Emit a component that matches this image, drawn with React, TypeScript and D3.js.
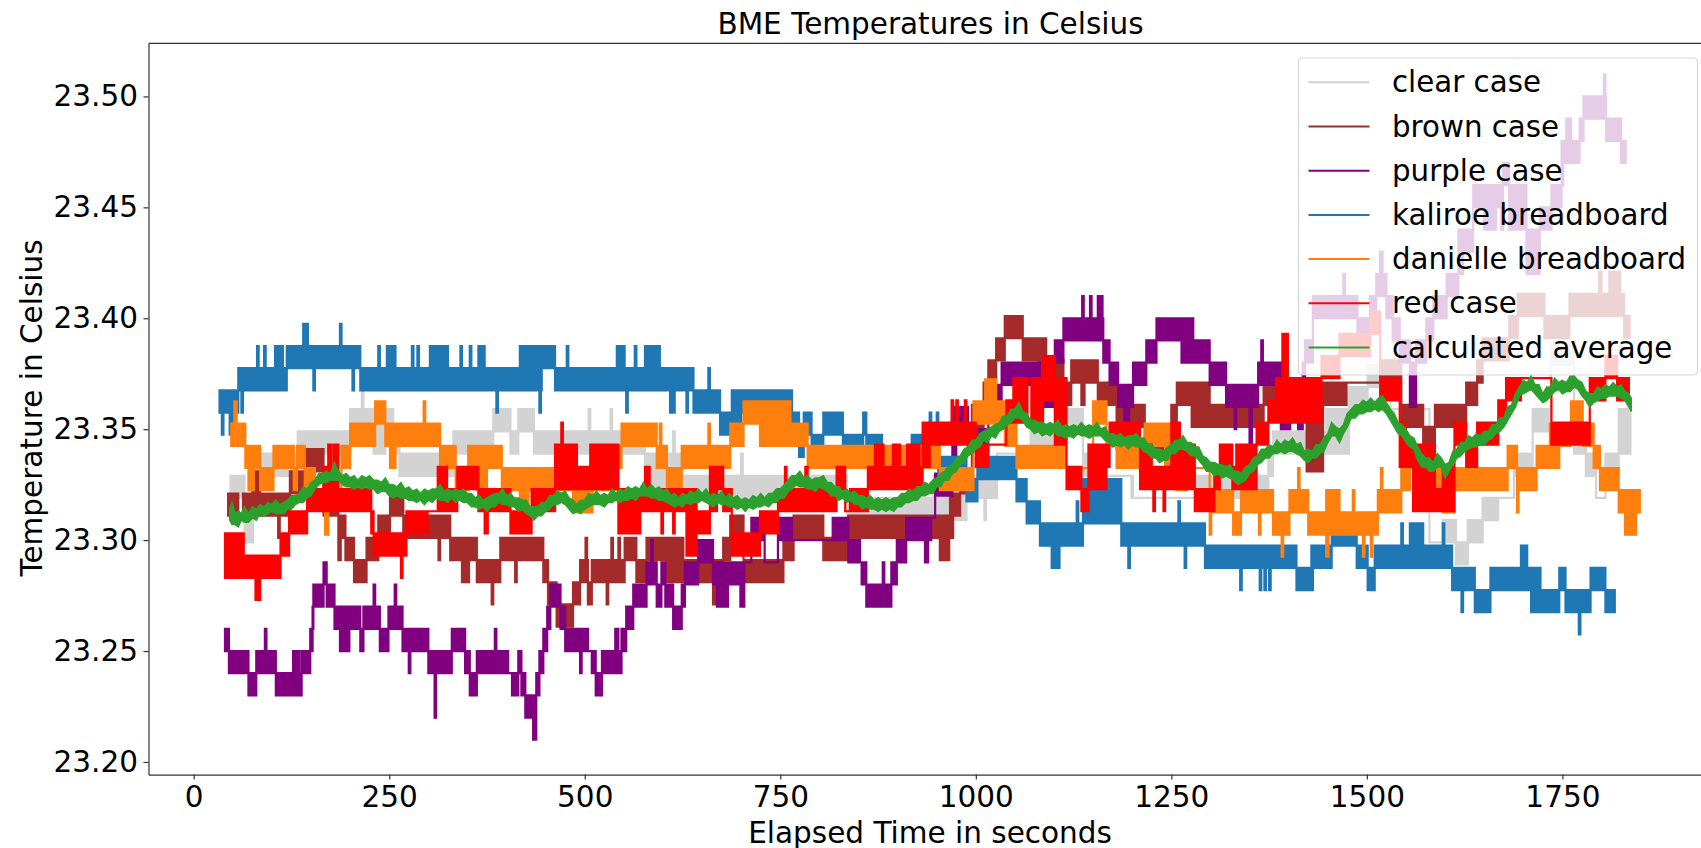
import React, { useEffect, useRef } from "react";
import * as d3 from "d3";

// rows are [seconds, low, high], low/high in hundredths above 23 C.
// the sensor flips between two readings so fast that it shows as a block: a row holds from its
// time until the next row.
type Row = [number, number, number];

const clearCase: Row[] = [
  [47,31,32],[65,29,31],[76,32,33],[122,32,33],[133,33,34],[160,33,34],[200,34,35],[215,34,36],[217,34,35],[230,33,35],[245,34,35],[255,33,34],
  [263,32,33],[302,32,33],[332,33,34],[383,34,35],[405,33,34],[415,34,35],[435,33,34],[505,33,35],[507,33,34],[533,33,35],[535,33,34],[577,31,33],
  [613,32,34],[615,32,33],[624,31,32],[694,31,32],[700,31,33],[702,31,32],[835,30,31],[912,30,31],[946,30,32],[988,31,32],[1011,30,32],[1013,31,32],
  [1027,33,33],[1070,33,34],[1116,34,35],[1137,32,33],[1158,32,32],[1199,31,32],[1201,31,31],[1244,31,31],[1281,31,32],[1333,31,32],[1374,32,33],
  [1380,33,34],[1448,33,35],[1477,35,36],[1501,36,37],[1530,35,35],[1580,29,29],[1597,29,30],[1614,28,29],[1629,29,30],[1648,30,31],[1668,31,31],
  [1688,32,33],[1712,34,35],[1735,37,38],[1765,33,34],[1780,32,33],[1793,31,31],[1805,32,33],[1822,33,35],[1837,33,35],
];

const brownCase: Row[] = [
  [44,31,32],[57,31,31],[63,31,32],[75,31,33],[85,31,32],[108,30,32],[110,31,32],[123,32,33],[142,33,34],[166,31,33],[185,29,31],[188,30,31],
  [194,29,30],[205,28,29],[221,29,30],[236,30,31],[251,31,32],[268,30,31],[285,30,31],[313,29,31],[315,30,31],[328,29,30],[343,28,30],[352,29,30],
  [362,28,29],[381,27,29],[383,28,29],[392,29,30],[411,28,30],[413,29,30],[447,28,29],[453,27,28],[464,26,27],[485,27,28],[494,28,29],[501,28,30],
  [503,28,29],[504,27,28],[509,28,29],[528,27,29],[530,28,29],[534,28,30],[536,28,29],[543,28,30],[545,28,29],[551,29,30],[566,28,29],[579,29,30],
  [605,28,30],[626,28,29],[664,27,29],[677,29,30],[686,30,31],[703,28,29],[741,28,29],[754,29,30],[767,30,31],[792,30,31],[805,29,30],[837,30,31],
  [875,30,31],[943,30,31],[954,29,31],[966,30,31],[967,30,32],[971,31,32],[980,32,33],[995,34,36],[1010,36,37],[1016,37,38],[1026,38,39],[1037,39,40],
  [1060,38,39],[1080,37,39],[1090,36,38],[1112,36,37],[1122,37,38],[1135,36,38],[1139,37,38],[1156,36,37],[1180,34,36],[1203,35,36],[1216,34,35],
  [1250,35,36],[1257,36,37],[1276,35,37],[1299,35,36],[1346,35,36],[1368,36,37],[1423,33,36],[1444,36,37],[1474,37,37],[1518,37,38],[1544,35,36],
  [1572,34,35],[1587,35,36],[1627,36,37],[1641,37,38],[1648,38,39],[1682,39,40],[1693,40,41],[1727,39,40],[1759,40,41],[1797,40,42],[1800,40,41],
  [1810,40,42],[1824,40,41],[1829,39,40],[1836,39,40],
];

const purpleCase: Row[] = [
  [40,25,26],[45,24,25],[70,23,24],[80,24,25],[91,24,26],[93,24,25],[105,23,24],[127,23,25],[135,23,24],[138,24,25],[149,25,26],[152,26,27],[153,27,28],
  [166,28,29],[170,27,28],[180,26,27],[187,25,27],[199,26,27],[213,25,26],[217,26,27],[230,26,28],[232,26,27],[238,25,26],[249,26,27],[257,26,28],
  [259,26,27],[267,25,26],[275,24,25],[277,25,26],[300,24,25],[308,22,25],[310,24,25],[330,25,26],[347,24,25],[353,23,24],[362,24,25],[385,24,26],
  [387,24,25],[402,24,24],[407,23,24],[415,24,25],[419,23,24],[424,22,23],[434,21,23],[438,23,24],[442,24,25],[447,25,26],[452,26,27],[456,27,28],
  [469,26,27],[475,25,26],[494,24,25],[496,25,26],[504,25,25],[509,24,25],[514,23,24],[522,24,25],[539,24,26],[543,24,25],[547,25,26],[553,26,27],
  [562,27,28],[579,28,29],[585,28,30],[587,28,29],[592,27,28],[598,28,29],[603,27,28],[613,26,27],[624,27,28],[628,28,29],[645,29,30],[664,28,29],
  [669,27,29],[683,28,29],[699,27,29],[704,29,29],[713,30,31],[730,29,29],[747,30,31],[765,30,30],[817,30,31],[837,29,30],[852,29,29],[854,28,29],
  [860,27,28],[881,27,29],[883,27,28],[892,28,29],[899,29,30],[911,30,31],[935,29,31],[939,30,31],[943,31,31],[948,32,33],[970,33,36],[975,35,36],
  [990,34,35],[1003,34,35],[1016,36,37],[1033,37,38],[1082,36,37],[1101,38,39],[1112,39,40],[1136,39,41],[1138,39,40],[1146,39,41],[1148,39,40],
  [1156,39,41],[1162,39,40],[1163,38,39],[1171,37,38],[1182,36,37],[1190,35,37],[1196,36,37],[1201,37,38],[1218,38,39],[1231,39,40],[1263,38,40],
  [1278,38,39],[1299,37,38],[1320,36,37],[1331,35,37],[1333,36,37],[1350,34,37],[1353,36,37],[1361,37,38],[1365,37,39],[1367,37,38],[1384,36,38],
  [1390,35,36],[1402,36,36],[1412,35,36],[1418,37,38],[1421,38,39],[1431,40,41],[1470,40,42],[1472,40,41],[1488,39,40],[1504,40,41],[1512,41,42],
  [1517,41,43],[1520,41,42],[1525,40,41],[1533,39,40],[1542,38,39],[1555,36,38],[1563,38,39],[1576,39,40],[1585,40,41],[1602,41,42],[1617,42,44],
  [1623,43,44],[1636,45,46],[1650,44,46],[1665,45,46],[1672,44,46],[1674,46,47],[1682,44,46],[1704,42,44],[1721,44,45],[1736,45,46],[1749,46,48],
  [1751,47,48],[1755,47,49],[1761,47,48],[1772,48,49],[1777,49,50],[1803,49,51],[1805,49,50],[1806,48,49],[1825,47,48],[1831,47,48],
];

const kaliroeBreadboard: Row[] = [
  [33,35,36],[36,34,36],[38,35,36],[46,34,36],[50,35,36],[57,36,37],[61,35,37],[63,36,37],[81,36,38],[83,36,37],[90,36,38],[92,36,37],[104,36,38],
  [114,36,37],[119,37,38],[140,37,39],[146,37,38],[153,36,38],[155,37,38],[187,37,39],[189,37,38],[203,36,38],[205,37,38],[213,36,37],[236,36,38],
  [238,36,37],[247,36,38],[258,36,37],[279,36,38],[281,36,37],[286,36,38],[288,36,37],[302,36,38],[325,36,37],[341,36,38],[343,36,37],[353,36,38],
  [355,36,37],[364,36,38],[372,36,37],[387,35,37],[389,36,37],[417,36,38],[442,35,38],[444,36,38],[445,37,38],[462,36,37],[477,36,38],[479,36,37],
  [541,36,38],[551,36,37],[553,35,37],[555,36,37],[564,36,38],[566,36,37],[577,36,38],[596,36,37],[609,35,37],[615,36,37],[630,35,37],[632,36,37],
  [639,35,36],[658,35,37],[660,35,36],[673,34,35],[688,34,36],[700,35,36],[726,34,36],[765,34,35],[774,33,34],[780,34,35],[790,33,34],[805,34,35],
  [830,33,34],[847,33,34],[856,34,35],[860,33,34],[880,33,33],[918,33,34],[941,33,35],[943,33,34],[950,33,35],[952,32,33],[988,31,32],[1002,32,33],
  [1052,31,32],[1058,31,32],[1065,30,31],[1082,29,30],[1097,28,30],[1107,29,30],[1129,29,31],[1131,29,30],[1137,30,32],[1186,29,30],[1195,28,30],
  [1197,29,30],[1259,29,31],[1261,29,30],[1267,28,30],[1269,29,30],[1293,28,29],[1338,27,29],[1340,28,29],[1363,27,29],[1365,28,29],[1369,27,29],
  [1371,28,29],[1375,27,29],[1377,28,29],[1410,27,28],[1429,27,29],[1431,28,29],[1455,29,30],[1487,28,29],[1501,27,28],[1510,28,29],[1544,28,30],
  [1546,28,29],[1555,28,30],[1572,28,29],[1597,28,30],[1599,28,29],[1609,27,28],[1621,26,28],[1623,27,28],[1638,26,27],[1658,27,28],[1697,27,29],
  [1705,27,28],[1710,26,28],[1722,26,27],[1746,27,28],[1754,26,27],[1771,25,27],[1773,26,27],[1786,27,28],[1805,26,27],[1817,26,27],
];

const danielleBreadboard: Row[] = [
  [48,34,35],[52,35,36],[55,34,35],[66,33,34],[70,32,34],[77,33,34],[85,32,33],[102,33,34],[128,32,33],[132,33,34],[142,32,33],[155,32,32],[168,30,33],
  [172,32,32],[189,33,34],[200,34,35],[232,35,36],[245,34,35],[251,33,35],[258,34,35],[294,34,36],[296,34,35],[305,34,35],[315,33,34],[335,32,32],
  [351,33,34],[362,32,34],[375,33,34],[394,32,33],[417,31,33],[428,32,33],[462,32,32],[485,31,32],[510,32,32],[541,33,34],[547,34,35],[592,33,34],
  [596,33,35],[598,33,34],[605,32,33],[624,33,34],[647,33,34],[658,33,35],[660,33,34],[673,33,34],[686,34,35],[703,35,36],[724,34,36],[763,34,35],
  [785,33,34],[811,33,34],[839,33,34],[869,33,33],[884,33,34],[932,33,33],[939,33,34],[954,32,33],[997,35,36],[1012,35,37],[1026,35,36],[1037,34,35],
  [1052,33,34],[1093,33,34],[1115,33,33],[1150,35,36],[1167,34,34],[1180,33,34],[1216,34,35],[1242,33,35],[1257,32,34],[1270,33,33],[1299,30,32],
  [1301,31,32],[1329,30,31],[1339,31,32],[1362,30,32],[1364,31,32],[1380,30,31],[1391,29,31],[1393,30,31],[1401,31,32],[1412,31,33],[1414,31,32],
  [1425,30,31],[1448,29,32],[1451,30,32],[1465,30,31],[1474,30,31],[1482,30,32],[1484,30,31],[1495,29,31],[1497,30,31],[1505,29,31],[1507,30,31],
  [1514,31,32],[1518,31,33],[1520,31,32],[1544,32,33],[1555,33,34],[1567,33,34],[1585,32,33],[1597,31,32],[1612,32,33],[1680,33,34],[1692,31,33],
  [1694,32,33],[1717,33,34],[1734,33,35],[1746,34,35],[1761,35,36],[1776,34,35],[1790,33,34],[1798,32,33],[1822,31,32],[1830,30,32],[1844,31,32],[1849,31,32],
];

const redCase: Row[] = [
  [40,28,30],[64,28,29],[79,27,29],[85,28,29],[111,29,30],[122,30,31],[145,31,32],[166,31,33],[172,31,34],[176,31,32],[179,31,34],[185,31,32],[188,31,32],
  [227,30,31],[230,29,30],[265,28,30],[267,29,30],[272,30,31],[299,31,31],[312,31,33],[324,31,32],[337,32,33],[364,31,32],[372,30,32],[376,31,32],
  [405,30,31],[432,31,32],[462,32,34],[470,32,35],[472,32,34],[490,32,33],[507,32,34],[543,30,32],[571,31,32],[577,31,33],[583,31,32],[598,30,32],
  [600,31,32],[613,30,32],[615,31,32],[630,29,32],[643,30,31],[660,31,33],[669,32,33],[677,31,32],[688,29,30],[724,30,31],[747,31,32],[756,31,33],
  [758,31,32],[762,31,32],[782,31,33],[785,31,32],[822,32,33],[833,31,31],[839,31,32],[862,32,33],[871,32,34],[882,32,33],[894,32,34],[903,32,33],
  [912,32,34],[928,32,33],[932,33,35],[941,34,35],[969,34,36],[971,34,35],[975,34,36],[977,34,35],[986,34,36],[988,34,35],[1000,33,34],[1016,34,34],
  [1039,35,36],[1048,35,37],[1066,35,35],[1071,35,37],[1086,36,38],[1101,34,37],[1116,32,33],[1135,31,32],[1144,32,34],[1167,33,34],[1171,34,35],
  [1210,32,34],[1225,32,33],[1227,31,33],[1229,32,33],[1240,31,33],[1242,32,33],[1250,32,35],[1261,32,34],[1280,31,32],[1305,32,33],[1312,33,34],
  [1328,32,33],[1333,32,34],[1359,34,35],[1374,35,36],[1384,35,37],[1392,35,39],[1399,35,37],[1442,37,38],[1465,38,39],[1504,39,40],[1517,36,37],
  [1542,33,35],[1550,33,34],[1559,31,34],[1587,31,32],[1597,31,33],[1612,34,35],[1627,33,34],[1641,34,35],[1668,35,36],[1678,36,37],[1697,37,37],
  [1736,34,35],[1785,36,37],[1805,37,38],[1820,36,37],[1835,36,37],
];

const calculatedAverage: Row[] = [
  [46,30.9,31.4],[49,30.7,31.7],[53,30.7,31.2],[57,30.6,31.3],[61,30.9,31.2],[65,30.8,31.5],[70,30.8,31.2],[75,31,31.5],[80,30.9,31.4],[85,31.2,31.6],
  [90,31.1,31.5],[95,31.2,31.7],[100,31.3,31.6],[105,31.2,31.8],[110,31.2,31.6],[115,31.2,31.7],[120,31.4,31.8],[125,31.4,32],[130,31.6,32],[135,31.7,32.1],
  [140,31.7,32.4],[145,31.9,32.3],[150,32,32.6],[155,32.3,32.7],[160,32.5,33],[165,32.6,33],[170,32.6,33.1],[175,32.7,33],[180,32.7,33.5],[185,32.7,33.1],
  [190,32.5,32.9],[195,32.4,33],[200,32.4,32.8],[205,32.3,32.9],[210,32.4,32.7],[215,32.3,32.9],[220,32.4,32.8],[225,32.3,32.9],[230,32.3,32.7],[235,32.1,32.7],
  [240,32.2,32.6],[245,32.2,32.8],[250,32,32.5],[255,31.9,32.5],[260,32,32.4],[265,31.9,32.6],[270,31.9,32.3],[275,31.8,32.4],[280,31.8,32.2],[285,31.7,32.3],
  [290,31.8,32.1],[295,31.6,32.3],[300,31.8,32.2],[305,31.7,32.3],[310,31.9,32.3],[315,31.8,32.5],[320,31.8,32.2],[325,31.7,32.3],[330,31.9,32.2],[335,31.7,32.3],
  [340,31.8,32.2],[345,31.7,32.3],[350,31.7,32.1],[355,31.5,32.1],[360,31.5,31.9],[365,31.4,32],[370,31.5,31.8],[375,31.3,31.9],[380,31.5,32],[385,31.5,32.1],
  [390,31.7,32.1],[395,31.6,32.3],[400,31.6,32],[405,31.5,32.1],[410,31.5,31.9],[415,31.3,31.9],[420,31.4,31.8],[425,31.2,31.8],[430,31.1,31.5],[435,30.9,31.5],
  [440,31.1,31.5],[445,31.1,31.7],[450,31.3,31.7],[455,31.4,32],[460,31.6,32],[465,31.6,32.2],[470,31.7,32.1],[475,31.6,32.2],[480,31.4,31.9],[485,31.2,31.8],
  [490,31.3,31.6],[495,31.2,31.8],[500,31.4,31.8],[505,31.5,32.1],[510,31.6,32],[515,31.6,32.2],[520,31.6,32],[525,31.5,32.1],[530,31.7,32],[535,31.7,32.3],
  [540,31.8,32.1],[545,31.7,32.3],[550,31.8,32.2],[555,31.8,32.4],[560,31.9,32.3],[565,31.8,32.4],[570,32,32.3],[575,32,32.6],[580,32,32.3],[585,31.9,32.5],
  [590,31.9,32.3],[595,31.8,32.4],[600,31.8,32.2],[605,31.7,32.3],[610,31.6,32],[615,31.5,32.1],[620,31.6,31.9],[625,31.5,32.1],[630,31.7,32],[635,31.6,32.2],
  [640,31.7,32.1],[645,31.7,32.3],[650,31.8,32.1],[655,31.7,32.3],[660,31.6,32],[665,31.5,32.1],[670,31.7,32],[675,31.6,32.2],[680,31.6,31.9],[685,31.5,32.1],
  [690,31.5,31.9],[695,31.4,32],[700,31.5,31.8],[705,31.3,31.9],[710,31.5,31.8],[715,31.4,32],[720,31.5,31.9],[725,31.5,32.1],[730,31.6,31.9],[735,31.5,32.1],
  [740,31.7,32.1],[745,31.7,32.3],[750,31.9,32.3],[755,31.9,32.5],[760,32.2,32.7],[765,32.3,32.9],[770,32.5,32.9],[775,32.4,33.1],[780,32.4,32.8],[785,32.3,32.9],
  [790,32.3,32.7],[795,32.2,32.8],[800,32.4,32.8],[805,32.3,32.9],[810,32.2,32.6],[815,32,32.6],[820,32,32.4],[825,31.8,32.4],[830,31.9,32.2],[835,31.7,32.3],
  [840,31.8,32.1],[845,31.6,32.2],[850,31.6,32],[855,31.4,32],[860,31.5,31.9],[865,31.4,32],[870,31.4,31.8],[875,31.3,31.9],[880,31.4,31.8],[885,31.3,31.9],
  [890,31.4,31.8],[895,31.3,31.9],[900,31.5,31.9],[905,31.5,32.1],[910,31.7,32.1],[915,31.7,32.3],[920,31.8,32.2],[925,31.8,32.4],[930,32,32.4],[935,32,32.6],
  [940,32.1,32.5],[945,32.1,32.7],[950,32.4,32.8],[955,32.4,33],[960,32.7,33.1],[965,32.7,33.3],[970,33,33.4],[975,33.1,33.7],[980,33.4,33.8],[985,33.5,34.1],
  [990,33.8,34.2],[995,33.9,34.5],[1000,34.1,34.5],[1005,34.2,34.8],[1010,34.5,34.9],[1015,34.4,35],[1020,34.7,35.1],[1025,34.6,35.2],[1030,34.9,35.3],[1035,35,35.6],
  [1040,35.2,35.6],[1045,35.3,35.9],[1050,35.5,35.9],[1055,35.5,36.2],[1060,35.4,35.8],[1065,35.1,35.7],[1070,35,35.4],[1075,34.8,35.4],[1080,34.9,35.3],[1085,34.7,35.3],
  [1090,34.8,35.2],[1095,34.7,35.3],[1100,34.9,35.2],[1105,34.7,35.4],[1110,34.7,35.1],[1115,34.6,35.2],[1120,34.7,35.1],[1125,34.6,35.2],[1130,34.8,35.1],[1135,34.7,35.3],
  [1140,34.7,35.1],[1145,34.6,35.2],[1150,34.7,35.1],[1155,34.7,35.3],[1160,34.7,35],[1165,34.5,35.1],[1170,34.4,34.8],[1175,34.2,34.8],[1180,34.3,34.7],[1185,34.2,34.8],
  [1190,34.3,34.6],[1195,34.1,34.7],[1200,34.3,34.7],[1205,34.2,34.8],[1210,34.2,34.6],[1215,34,34.6],[1220,33.9,34.3],[1225,33.7,34.3],[1230,33.7,34.1],[1235,33.5,34.1],
  [1240,33.6,34],[1245,33.6,34.2],[1250,33.9,34.3],[1255,33.9,34.5],[1260,34.1,34.5],[1265,34.1,34.7],[1270,34,34.4],[1275,33.8,34.4],[1280,33.8,34.2],[1285,33.6,34.2],
  [1290,33.4,33.8],[1295,33.1,33.7],[1300,33.1,33.5],[1305,32.9,33.5],[1310,33,33.4],[1315,32.8,33.4],[1320,32.9,33.3],[1325,32.8,33.4],[1330,32.7,33.1],[1335,32.5,33.1],
  [1340,32.6,33],[1345,32.7,33.3],[1350,33,33.4],[1355,33.1,33.7],[1360,33.4,33.8],[1365,33.5,34.1],[1370,33.7,34.1],[1375,33.7,34.3],[1380,33.9,34.2],[1385,33.9,34.5],
  [1390,34,34.3],[1395,33.9,34.5],[1400,34,34.4],[1405,34,34.6],[1410,33.9,34.3],[1415,33.8,34.4],[1420,33.6,34],[1425,33.5,34.1],[1430,33.7,34],[1435,33.7,34.3],
  [1440,33.9,34.3],[1445,34,34.6],[1450,34.4,34.8],[1455,34.7,35.3],[1460,34.7,35.1],[1465,34.4,35],[1470,34.8,35.2],[1475,35.1,35.7],[1480,35.5,35.9],[1485,35.5,36.1],
  [1490,35.7,36.1],[1495,35.7,36.3],[1500,35.8,36.2],[1505,35.8,36.4],[1510,35.9,36.2],[1515,35.8,36.4],[1520,35.9,36.5],[1525,35.7,36.2],[1530,35.4,35.9],[1535,35.1,35.7],
  [1540,34.8,35.3],[1545,34.7,35.2],[1550,34.4,35],[1555,34.2,34.7],[1560,34.1,34.6],[1565,33.6,34.2],[1570,33.3,33.9],[1575,33.3,33.7],[1580,33.1,33.7],[1585,33.1,33.5],
  [1590,33.3,33.9],[1595,33.3,33.7],[1600,32.8,33.4],[1605,33.1,33.5],[1610,33.4,34],[1615,33.7,34.1],[1620,33.8,34.4],[1625,34,34.4],[1630,34.1,34.7],[1635,34.2,34.6],
  [1640,34.2,34.8],[1645,34.3,34.7],[1650,34.3,34.9],[1655,34.5,34.9],[1660,34.6,35.2],[1665,34.8,35.2],[1670,34.9,35.5],[1675,35.1,35.5],[1680,35.4,36],[1685,35.7,36.1],
  [1690,36,36.6],[1695,36.5,36.9],[1700,36.6,37.2],[1705,36.7,37.1],[1710,36.8,37.4],[1715,36.6,37],[1720,36.4,37],[1725,36.2,36.6],[1730,36.3,36.9],[1735,36.5,36.9],
  [1740,36.7,37.3],[1745,36.8,37.1],[1750,36.6,37.2],[1755,36.7,37.1],[1760,36.7,37.4],[1765,36.9,37.4],[1770,36.8,37.2],[1775,36.5,37.1],[1780,36.3,36.7],[1785,36,36.6],
  [1790,36.2,36.6],[1795,36.3,36.9],[1800,36.4,36.8],[1805,36.4,37],[1810,36.5,36.9],[1815,36.5,37.1],[1820,36.5,36.9],[1825,36.4,37],[1830,36.3,36.7],[1835,36,36.6],[1838,35.8,36.4],
];

const seriesNames = ["clear case", "brown case", "purple case", "kaliroe breadboard", "danielle breadboard", "red case", "calculated average"];
const seriesRows = [clearCase, brownCase, purpleCase, kaliroeBreadboard, danielleBreadboard, redCase, calculatedAverage];
const seriesColors = ["#d3d3d3", "#a52a2a", "#800080", "#1f77b4", "#ff7f0e", "#ff0000", "#2ca02c"];
// each sensor's readings sit on its own grid, this is its offset in hundredths
const seriesOffsets = [0.9, 0.1, 0, 0.75, 0.25, 0.3, 0];

const xTicks = [0, 250, 500, 750, 1000, 1250, 1500, 1750];
const yTicks = [23.2, 23.25, 23.3, 23.35, 23.4, 23.45, 23.5];

const font = "'DejaVu Sans', sans-serif";

export default function App() {
  const svgRef = useRef<SVGSVGElement>(null);

  useEffect(() => {
    const svg = d3.select(svgRef.current);
    svg.selectAll("*").remove();

    const left = 148.5, right = 1711, top = 43.4, bottom = 774.6;
    const x = d3.scaleLinear().domain([-57.8, 1940]).range([left, right]);
    const y = d3.scaleLinear().domain([23.1943, 23.5239]).range([bottom, top]);

    seriesRows.forEach((rows, i) => {
      const temp = (v: number) => y(23 + (v + seriesOffsets[i]) / 100);
      const sorted = [...rows].sort((a, b) => a[0] - b[0]);
      const isAverage = i === 6;
      const area = d3
        .area<Row>()
        .x((d) => x(d[0]))
        .y0((d) => temp(d[1]))
        .y1((d) => temp(d[2]))
        .curve(isAverage ? d3.curveLinear : d3.curveStepAfter);
      svg
        .append("path")
        .attr("d", area(sorted))
        .attr("fill", seriesColors[i])
        .attr("stroke", seriesColors[i])
        .attr("stroke-width", isAverage ? 1.5 : 2.2);
    });

    const xAxis = svg
      .append("g")
      .attr("transform", `translate(0,${bottom})`)
      .call(d3.axisBottom(x).tickValues(xTicks).tickSizeInner(5).tickSizeOuter(0).tickPadding(6.5).tickFormat(d3.format("d")));
    const yAxis = svg
      .append("g")
      .attr("transform", `translate(${left},0)`)
      .call(d3.axisLeft(y).tickValues(yTicks).tickSizeInner(5).tickSizeOuter(0).tickPadding(5.5).tickFormat(d3.format(".2f")));
    [xAxis, yAxis].forEach((a) => {
      a.selectAll("text").attr("font-size", 29.5).attr("font-family", font).attr("fill", "#000");
      a.selectAll("line").attr("stroke", "#333").attr("stroke-width", 1.2);
      a.select(".domain").attr("stroke", "#333").attr("stroke-width", 1.2);
    });

    svg.append("line").attr("x1", left).attr("x2", right).attr("y1", top).attr("y2", top).attr("stroke", "#333").attr("stroke-width", 1.2);

    // legend
    const legend = svg.append("g");
    legend
      .append("rect")
      .attr("x", 1298.5)
      .attr("y", 58)
      .attr("width", 399)
      .attr("height", 317)
      .attr("rx", 4)
      .attr("fill", "#fff")
      .attr("fill-opacity", 0.8)
      .attr("stroke", "#ccc")
      .attr("stroke-opacity", 0.8)
      .attr("stroke-width", 1.2);
    seriesNames.forEach((name, i) => {
      const ly = 82.3 + i * 44.2;
      legend.append("line").attr("x1", 1308.5).attr("x2", 1369.5).attr("y1", ly).attr("y2", ly).attr("stroke", seriesColors[i]).attr("stroke-width", 2);
      legend
        .append("text")
        .attr("x", 1392)
        .attr("y", ly + 10)
        .attr("font-size", 29.3)
        .attr("font-family", font)
        .attr("fill", "#000")
        .text(name);
    });

    const label = (text: string, lx: number, ly: number, rotate = 0) =>
      svg
        .append("text")
        .attr("transform", `translate(${lx},${ly}) rotate(${rotate})`)
        .attr("text-anchor", "middle")
        .attr("font-size", 29.5)
        .attr("font-family", font)
        .attr("fill", "#000")
        .text(text);
    label("BME Temperatures in Celsius", 930.5, 34.3);
    label("Elapsed Time in seconds", 930, 842.5);
    label("Temperature in Celsius", 42, 408, -90);
  }, []);

  return <svg ref={svgRef} width={1701} height={848} style={{ position: "absolute", left: 0, top: 0, display: "block", background: "#fff" }} />;
}
